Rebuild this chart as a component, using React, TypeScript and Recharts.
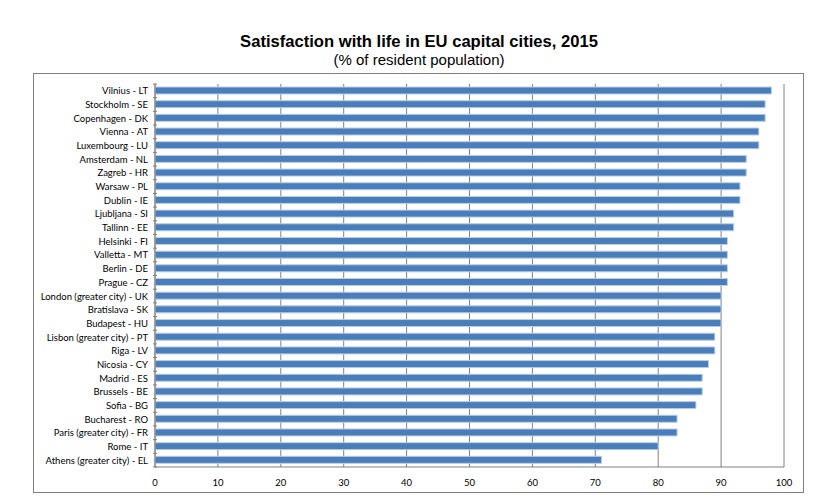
import { BarChart, Bar, XAxis, YAxis, CartesianGrid } from 'recharts'

const cities = [
  'Vilnius - LT', 'Stockholm - SE', 'Copenhagen - DK', 'Vienna - AT', 'Luxembourg - LU',
  'Amsterdam - NL', 'Zagreb - HR', 'Warsaw - PL', 'Dublin - IE', 'Ljubljana - SI',
  'Tallinn - EE', 'Helsinki - FI', 'Valletta - MT', 'Berlin - DE', 'Prague - CZ',
  'London (greater city) - UK', 'Bratislava - SK', 'Budapest - HU', 'Lisbon (greater city) - PT',
  'Riga - LV', 'Nicosia - CY', 'Madrid - ES', 'Brussels - BE', 'Sofia - BG',
  'Bucharest - RO', 'Paris (greater city) - FR', 'Rome - IT', 'Athens (greater city) - EL',
]
const satisfied = [
  98, 97, 97, 96, 96, 94, 94, 93, 93, 92, 92, 91, 91, 91, 91,
  90, 90, 90, 89, 89, 88, 87, 87, 86, 83, 83, 80, 71,
]
const xTicks = [0, 10, 20, 30, 40, 50, 60, 70, 80, 90, 100]

const data = cities.map((city, i) => ({ city, value: satisfied[i] }))

const TOP = 84
const BOTTOM_AXIS = 467
const band = (BOTTOM_AXIS - TOP) / cities.length
const labelFont = 'Lato, "Open Sans", sans-serif'

// category label plus excel-style tick marks between the categories
function CityTick(props: any) {
  const { x, y, payload, index } = props
  const last = index === cities.length - 1
  return (
    <g>
      <line x1={x + 6} x2={x + 10} y1={y - band / 2} y2={y - band / 2} stroke="#808080" />
      {last && <line x1={x + 6} x2={x + 10} y1={y + band / 2} y2={y + band / 2} stroke="#808080" />}
      <text x={x + 1} y={y} dy={3.5} textAnchor="end" fontSize={9.5} fill="#000" fontFamily={labelFont}>
        {payload.value}
      </text>
    </g>
  )
}

export default function App() {
  return (
    <div style={{ position: 'absolute', left: 0, top: 0, width: 830, height: 504, background: '#fff' }}>
      <div style={{ position: 'absolute', left: 0, width: 838, top: 32, textAlign: 'center', fontFamily: 'Arial, "Liberation Sans", sans-serif', fontWeight: 'bold', fontSize: 16.6, color: '#000' }}>
        Satisfaction with life in EU capital cities, 2015
      </div>
      <div style={{ position: 'absolute', left: 0, width: 838, top: 51, textAlign: 'center', fontFamily: 'Arial, "Liberation Sans", sans-serif', fontSize: 15, color: '#000' }}>
        (% of resident population)
      </div>
      <div style={{ position: 'absolute', left: 33, top: 73, width: 769, height: 418, border: '1px solid #808080' }} />
      <BarChart
        width={830}
        height={504}
        data={data}
        layout="vertical"
        margin={{ top: TOP, right: 46, bottom: 504 - BOTTOM_AXIS - 25, left: 5 }}
        barCategoryGap={0}
        style={{ position: 'absolute', left: 0, top: 0 }}
      >
        <CartesianGrid horizontal={false} stroke="#808080" strokeWidth={1} />
        <XAxis
          type="number"
          domain={[0, 100]}
          ticks={xTicks}
          interval={0}
          height={25}
          axisLine={{ stroke: '#808080' }}
          tickLine={false}
          tick={{ fontSize: 9.5, fill: '#000', fontFamily: labelFont }}
          tickMargin={6}
        />
        <YAxis
          type="category"
          dataKey="city"
          width={150}
          interval={0}
          axisLine={{ stroke: '#808080' }}
          tickLine={false}
          tick={<CityTick />}
        />
        <Bar dataKey="value" fill="#4A7EBB" stroke="#B9CDE5" strokeWidth={1} barSize={7} isAnimationActive={false} />
      </BarChart>
    </div>
  )
}
